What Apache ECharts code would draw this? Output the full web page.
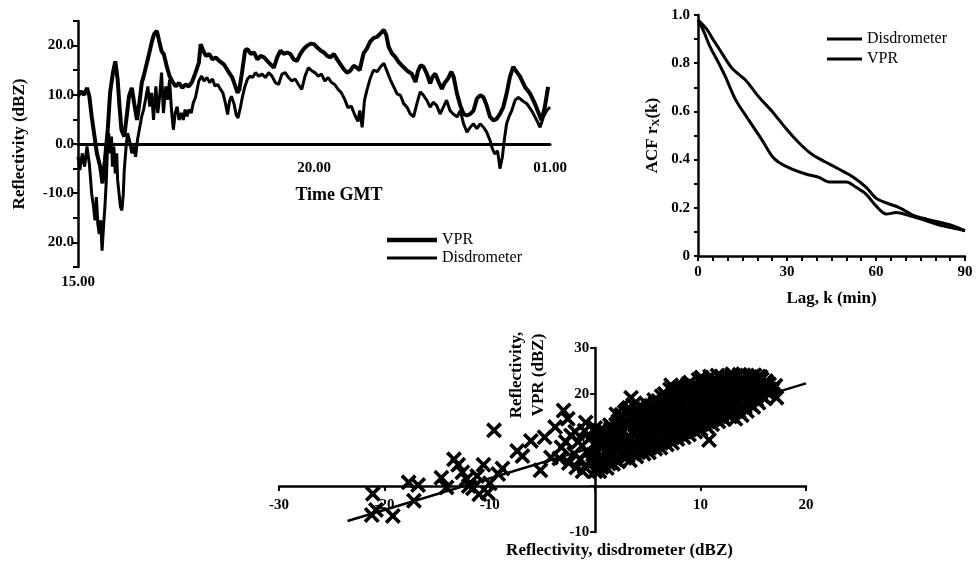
<!DOCTYPE html>
<html><head><meta charset="utf-8">
<script src="https://cdn.jsdelivr.net/npm/echarts@6/dist/echarts.min.js"></script>
<style>html,body{margin:0;padding:0;background:#fff}#c{width:977px;height:571px}</style>
</head><body><div id="c"></div>
<script>
// ---------- Panel 1: reflectivity time series (time in hours GMT; 25 = 01.00 next day) ----------
const vprTime = [15.00,15.06,15.13,15.19,15.24,15.29,15.35,15.40,15.47,15.52,15.57,15.63,15.68,15.74,15.79,15.84,15.88,15.92,15.98,16.04,16.08,16.14,16.19,16.25,16.30,16.35,16.40,16.46,16.51,16.56,16.61,16.67,16.72,16.77,16.82,16.88,16.94,17.00,17.07,17.14,17.21,17.28,17.35,17.42,17.49,17.56,17.60,17.65,17.71,17.78,17.85,17.92,17.99,18.09,18.20,18.27,18.33,18.38,18.42,18.48,18.54,18.59,18.66,18.73,18.80,18.87,18.94,19.01,19.08,19.15,19.22,19.29,19.36,19.43,19.50,19.57,19.64,19.71,19.78,19.86,19.93,20.00,20.07,20.14,20.21,20.28,20.35,20.42,20.49,20.56,20.63,20.70,20.77,20.84,20.91,20.97,21.00,21.05,21.12,21.19,21.26,21.34,21.41,21.48,21.53,21.58,21.65,21.72,21.79,21.86,21.93,22.00,22.07,22.15,22.20,22.26,22.32,22.39,22.46,22.51,22.57,22.64,22.71,22.76,22.84,22.91,22.96,23.03,23.10,23.17,23.24,23.31,23.38,23.45,23.52,23.59,23.66,23.73,23.80,23.87,23.94,24.01,24.08,24.15,24.22,24.29,24.36,24.47,24.58,24.68,24.75,24.82,24.89,24.96];
const vprDBZ = [9.7,10.7,10.0,11.4,9.7,5.6,1.5,-1.9,-4.6,-8.0,-3.3,2.9,10.4,14.5,16.8,13.1,7.6,2.9,1.5,6.3,9.7,11.4,8.3,4.9,8.3,12.4,14.1,16.5,18.5,20.6,22.3,23.0,20.9,18.9,18.2,15.8,13.8,12.7,11.7,12.4,11.4,12.1,11.7,12.7,14.5,16.5,20.3,19.0,17.9,18.3,17.2,17.6,16.9,16.2,14.5,13.5,11.8,10.4,11.1,14.9,19.0,19.3,18.3,18.6,17.2,17.9,17.6,16.9,16.2,15.5,17.6,19.0,18.3,18.6,18.3,17.2,16.9,18.3,19.3,20.0,20.4,20.3,19.6,19.0,18.6,17.9,17.6,18.3,17.2,16.2,15.2,14.5,14.9,15.9,15.5,15.0,16.4,18.4,19.4,20.8,21.5,21.8,22.5,23.2,22.2,19.8,18.4,17.7,16.7,16.0,15.3,14.7,14.3,12.6,14.7,16.0,15.7,14.3,12.3,13.6,14.3,12.6,11.2,12.3,13.3,14.7,13.6,10.2,7.8,6.1,5.8,6.1,6.8,9.2,9.9,9.5,7.8,5.5,4.8,5.1,6.1,7.5,10.2,13.6,15.7,14.7,13.8,11.6,10.2,8.2,6.5,4.8,7.5,11.6];
const disTime = [15.00,15.04,15.09,15.14,15.19,15.24,15.29,15.33,15.36,15.39,15.42,15.45,15.48,15.51,15.54,15.57,15.60,15.62,15.65,15.68,15.71,15.73,15.76,15.79,15.82,15.84,15.87,15.90,15.93,15.96,15.98,16.02,16.05,16.09,16.14,16.18,16.22,16.26,16.31,16.35,16.39,16.43,16.48,16.52,16.56,16.60,16.65,16.69,16.73,16.77,16.81,16.86,16.90,16.94,16.98,17.02,17.06,17.10,17.14,17.19,17.23,17.27,17.31,17.35,17.40,17.44,17.49,17.56,17.62,17.67,17.73,17.79,17.85,17.90,17.96,18.02,18.07,18.13,18.17,18.21,18.25,18.31,18.35,18.39,18.44,18.48,18.53,18.59,18.65,18.70,18.76,18.83,18.90,18.97,19.04,19.11,19.18,19.25,19.32,19.39,19.46,19.53,19.60,19.67,19.74,19.81,19.88,19.95,20.02,20.09,20.16,20.23,20.30,20.37,20.44,20.51,20.58,20.65,20.72,20.79,20.86,20.93,20.97,21.02,21.07,21.12,21.19,21.26,21.34,21.41,21.48,21.55,21.62,21.69,21.76,21.83,21.90,21.97,22.04,22.11,22.18,22.25,22.32,22.39,22.46,22.53,22.60,22.67,22.74,22.81,22.88,22.95,23.03,23.10,23.17,23.24,23.31,23.38,23.45,23.52,23.59,23.66,23.73,23.78,23.83,23.89,23.94,23.99,24.03,24.08,24.13,24.19,24.26,24.33,24.40,24.51,24.61,24.72,24.79,24.86,24.93,25.00];
const disDBZ = [-2.6,-5.3,-1.9,-4.6,-0.5,-4.0,-10.1,-12.8,-15.5,-10.8,-16.2,-18.3,-15.5,-21.7,-16.9,-12.8,-7.4,-1.9,2.2,-1.9,1.5,-4.6,-0.5,-6.0,-1.9,-7.4,-10.1,-12.8,-13.5,-10.1,-5.3,-0.5,2.2,0.8,-1.9,-0.5,-2.6,0.8,3.5,5.6,7.0,9.0,11.7,7.6,10.4,4.9,11.7,6.3,9.7,14.5,6.3,11.7,9.0,13.1,7.0,2.9,6.3,7.6,4.9,6.3,4.9,7.0,5.6,7.0,6.3,8.3,9.5,12.8,13.8,12.8,13.5,12.5,13.2,11.8,12.1,11.1,10.4,8.0,6.0,8.7,9.7,8.0,6.0,5.3,7.4,9.4,11.5,13.2,13.8,13.5,14.5,13.8,14.2,13.5,14.5,13.8,12.5,12.1,14.2,14.5,13.5,12.8,13.2,12.1,11.1,13.8,15.5,14.9,14.5,13.8,14.2,12.8,13.5,12.5,12.1,11.1,10.4,9.1,7.4,7.7,6.0,4.6,6.8,3.4,8.9,10.9,13.3,15.0,14.7,15.7,16.4,14.7,13.0,11.6,10.2,9.9,8.2,7.5,6.1,5.5,8.2,10.6,9.9,8.9,7.5,8.5,7.8,6.1,7.5,8.9,6.8,6.1,5.5,6.8,4.1,2.4,3.4,4.1,3.1,4.1,3.4,2.4,0.7,-1.0,-2.0,-1.4,-5.0,-2.7,0.7,4.1,5.5,6.8,8.9,9.5,8.9,8.2,6.8,4.8,3.4,5.5,6.8,7.5];
const tsYTickValues = [20, 10, 0, -10, -20];
const tsYTickLabels = ['20.0', '10.0', '0.0', '-10.0', '20.0'];
const tsXTickValues = [15, 20, 25];
const tsXTickLabels = ['15.00', '20.00', '01.00'];

// ---------- Panel 2: autocorrelation functions ----------
const acfDisLag = [0,2,4,7,9.2,12.6,17,21.5,25,27.3,31.7,36.3,40.8,44.2,50,53.3,56.7,60,63.5,66.8,71.4,77,82.6,90];
const acfDis = [0.98,0.93,0.87,0.80,0.745,0.65,0.566,0.483,0.414,0.388,0.36,0.34,0.326,0.307,0.307,0.285,0.256,0.208,0.174,0.18,0.167,0.146,0.125,0.105];
const acfVprLag = [0,3,5,7,11.4,16,20.5,25,29.6,34,38.6,43,47.6,52,56.7,60,63.5,68,72.4,77,81.5,86,90];
const acfVpr = [0.98,0.94,0.90,0.862,0.78,0.73,0.66,0.60,0.53,0.47,0.42,0.39,0.36,0.33,0.285,0.24,0.22,0.20,0.17,0.153,0.14,0.125,0.105];

// ---------- Panel 3: scatter VPR vs disdrometer, [disdrometer dBZ, VPR dBZ] ----------
const scatterPoints = [
[-21.1,-1.7],[-21.2,-6.3],[-20.8,-5.2],[-19.2,-6.5],[-17.7,0.8],[-17.2,-3.2],[-16.8,0.2],[-14.6,1.8],[-14.1,-0.3],[-13.4,5.8],
[-13.0,4.6],[-12.6,3.0],[-12.2,1.5],[-11.6,-0.5],[-11.2,2.2],[-10.6,4.6],[-10.2,-1.5],[-10.0,0.6],[-9.6,12.1],[-9.2,2.6],
[-12.0,0.0],[-11.0,-1.8],[-8.8,3.8],[-7.4,7.6],[-6.9,6.5],[-6.1,9.8],[-5.2,3.4],[-4.8,10.6],[-4.2,6.2],[-3.8,12.8],
[-3.0,16.4],[-2.6,14.6],[-2.3,11.0],[-2.5,5.0],[-1.8,4.0],[-1.6,9.6],[-1.0,12.0],[-0.8,7.5],[-0.4,5.5],[-3.2,8.4],
[-2.0,7.0],[-1.2,3.2],[0.2,9.0],[0.4,3.2],[2.0,15.6],[3.4,19.2],[7.2,21.9],[10.1,23.0],[16.6,21.0],[17.2,19.2],
[10.8,10.0],[8.6,21.5],[12.4,22.4],[14.0,23.6],[15.5,23.8],
[-1.4,5.8],[-0.6,10.2],[-2.8,9.6],[-1.0,4.2],[-0.2,6.8],[-1.9,11.8],[-0.9,13.8],[0.0,12.6],[-3.4,6.0],
[0.0,3.2],[0.1,5.4],[0.2,7.3],[-0.1,9.1],[0.3,10.8],[0.6,4.1],[0.7,6.2],[0.5,8.4],[0.8,10.1],[0.4,12.0],
[1.1,3.9],[1.0,5.8],[1.2,7.9],[1.3,9.7],[1.0,11.6],[1.4,13.2],[1.7,4.8],[1.6,6.9],[1.8,8.8],[1.9,10.9],[1.6,12.7],
[2.2,5.3],[2.1,7.4],[2.4,9.2],[2.3,11.3],[2.0,13.4],[2.5,14.9],[2.8,6.1],[2.7,8.0],[2.9,10.2],[2.6,12.1],[3.0,14.0],[2.8,16.1],
[3.3,5.6],[3.4,7.7],[3.2,9.6],[3.5,11.7],[3.3,13.5],[3.6,15.4],[3.2,17.0],[3.9,6.4],[4.0,8.5],[4.1,10.4],[3.8,12.3],[4.2,14.3],[4.0,16.2],
[4.6,7.0],[4.5,9.1],[4.7,11.0],[4.4,12.9],[4.8,14.8],[4.6,16.8],[5.1,7.3],[5.2,9.4],[5.0,11.5],[5.3,13.4],[5.1,15.3],[5.4,17.4],
[5.7,8.1],[5.6,10.0],[5.8,12.2],[5.5,14.1],[5.9,16.0],[5.7,18.0],[6.2,8.3],[6.3,10.4],[6.1,12.4],[6.4,14.5],[6.2,16.6],[6.0,18.5],
[6.8,9.0],[6.7,11.1],[6.9,13.0],[6.6,15.0],[7.0,17.1],[6.8,19.2],[7.3,9.4],[7.2,11.5],[7.4,13.6],[7.1,15.6],[7.5,17.5],[7.3,19.4],[7.1,21.0],
[7.8,10.2],[7.9,12.0],[7.7,14.1],[8.0,16.2],[7.8,18.1],[8.1,20.0],[8.4,10.6],[8.3,12.7],[8.5,14.6],[8.2,16.5],[8.6,18.6],[8.4,20.7],
[8.9,11.2],[9.0,13.1],[8.8,15.2],[9.1,17.2],[8.9,19.1],[9.2,21.2],[9.5,11.8],[9.4,13.8],[9.6,15.7],[9.3,17.8],[9.7,19.7],[9.5,21.7],
[10.0,12.3],[10.1,14.2],[9.9,16.3],[10.2,18.2],[10.0,20.3],[10.3,22.1],[10.6,12.9],[10.5,14.9],[10.7,16.8],[10.4,18.9],[10.8,20.8],[10.6,22.7],
[11.1,13.4],[11.2,15.3],[11.0,17.4],[11.3,19.3],[11.1,21.3],[11.4,23.0],[11.7,14.0],[11.6,16.1],[11.8,18.0],[11.5,20.0],[11.9,21.9],
[12.2,14.5],[12.3,16.4],[12.1,18.5],[12.4,20.4],[12.2,22.4],[12.0,23.8],[12.8,15.1],[12.7,17.2],[12.9,19.1],[12.6,21.1],[13.0,23.0],
[13.3,14.6],[13.4,16.6],[13.2,18.6],[13.5,20.6],[13.3,22.5],[13.1,24.1],[13.9,15.4],[13.8,17.5],[14.0,19.4],[13.7,21.4],[14.1,23.3],
[14.4,16.3],[14.5,18.2],[14.3,20.2],[14.6,22.1],[14.4,24.0],[15.0,17.2],[14.9,19.1],[15.1,21.0],[14.8,22.9],
[15.5,18.1],[15.6,20.0],[15.4,21.9],[15.7,23.7],[16.1,19.0],[16.0,21.0],[16.2,22.8],[16.6,20.2],[16.5,22.1],[16.9,21.3],
[0.3,4.3],[0.4,6.3],[0.6,9.4],[0.2,11.3],[1.3,4.9],[1.4,6.9],[1.5,8.9],[1.2,10.8],[1.5,12.4],
[1.9,5.8],[2.0,7.9],[2.1,10.1],[1.8,12.0],[2.2,14.1],[2.5,6.8],[2.6,9.0],[2.4,11.2],[2.7,13.3],[2.5,15.5],
[3.1,6.6],[3.0,8.7],[3.2,10.8],[3.0,12.8],[3.3,14.8],[3.0,16.6],[3.6,7.2],[3.7,9.3],[3.6,11.4],[3.9,13.4],[3.7,15.4],[3.6,17.6],
[4.3,7.7],[4.2,9.8],[4.4,11.9],[4.1,13.8],[4.4,15.6],[4.2,17.4],[4.9,8.3],[4.8,10.4],[4.9,12.4],[4.7,14.3],[5.0,16.3],[4.8,18.0],
[5.4,8.8],[5.5,10.9],[5.3,12.9],[5.6,15.0],[5.4,16.8],[5.6,18.7],[6.0,9.4],[5.9,11.4],[6.1,13.5],[5.9,15.5],[6.2,17.5],[6.3,19.5],
[6.5,10.1],[6.6,12.1],[6.4,14.0],[6.7,16.0],[6.5,18.0],[6.6,20.0],[7.1,10.3],[7.0,12.4],[7.2,14.5],[7.0,16.6],[7.3,18.6],[7.5,20.6],
[7.6,11.1],[7.6,13.1],[7.8,15.1],[7.5,17.1],[7.7,19.1],[7.9,21.2],[8.2,11.6],[8.1,13.7],[8.3,15.6],[8.1,17.6],[8.3,19.6],[8.2,21.6],
[8.7,12.1],[8.6,14.2],[8.7,16.2],[8.5,18.2],[8.8,20.2],[8.8,22.1],[9.2,12.6],[9.3,14.7],[9.1,16.7],[9.4,18.7],[9.2,20.7],[9.0,22.5],
[9.8,13.2],[9.7,15.2],[9.9,17.3],[9.6,19.2],[9.9,21.2],[9.8,23.1],[10.3,13.7],[10.4,15.7],[10.2,17.7],[10.5,19.7],[10.3,21.7],[10.1,23.6],
[10.9,14.2],[10.8,16.2],[11.0,18.2],[10.7,20.2],[11.0,22.2],[10.9,23.8],[11.4,14.8],[11.5,16.8],[11.3,18.8],[11.6,20.8],[11.4,22.6],[11.6,24.0],
[12.0,15.3],[11.9,17.3],[12.1,19.3],[11.8,21.3],[12.1,23.0],[12.5,15.6],[12.6,17.8],[12.4,19.8],[12.7,21.8],[12.5,23.6],
[13.0,16.1],[13.1,18.1],[12.9,20.1],[13.2,22.1],[13.0,24.3],[13.6,16.3],[13.5,18.4],[13.7,20.4],[13.4,22.4],[13.7,24.2],
[14.2,17.2],[14.1,19.3],[14.3,21.3],[14.0,23.0],[14.7,17.8],[14.8,20.0],[14.6,21.9],[14.9,23.8],
[15.3,18.8],[15.2,20.8],[15.4,22.7],[15.1,24.1],[15.8,19.6],[15.9,21.6],[15.8,23.2],[16.3,20.4],[16.4,22.2],[16.8,20.9],[17.1,21.8]
];
const fitLine = [[-23.5,-7.6],[20,22.3]];

const SERIF = 'Liberation Serif';
const X_SYMBOL = 'path://M0,1.6L1.6,0L5,3.4L8.4,0L10,1.6L6.6,5L10,8.4L8.4,10L5,6.6L1.6,10L0,8.4L3.4,5Z';
const axisLineStyle = {color:'#000', width:2.5};
const tickStyle = {width:2, color:'#000'};
const lbl = (extra) => Object.assign({color:'#000', fontFamily:SERIF, fontWeight:'bold', fontSize:15}, extra||{});
const nameStyle = (extra) => Object.assign({color:'#000', fontFamily:SERIF, fontWeight:'bold', fontSize:17}, extra||{});
const pickLabel = (vals, labels) => (v) => { const i = vals.findIndex(x => Math.abs(x - v) < 1e-6); return i < 0 ? '' : labels[i]; };

// grid geometry (pixels); axes that cross at zero are moved with offset
const G1 = {left:78, top:21, width:472, height:246};
const G2 = {left:698, top:15, width:267, height:241};
const G3 = {left:279, top:348, width:527, height:184};
const tsZeroOffset = -G1.height * 25 / 50;           // y = 0 inside [-25, 25]
const scXOffset = -G3.height * 10 / 40;              // y = 0 inside [-10, 30]
const scYOffset = -G3.width * 30 / 50;               // x = 0 inside [-30, 20]

const chart = echarts.init(document.getElementById('c'), null, {renderer:'canvas'});
chart.setOption({
  animation:false,
  backgroundColor:'#fff',
  color:['#000'],
  textStyle:{fontFamily:SERIF, color:'#000'},
  grid:[
    Object.assign({outerBoundsMode:'none', containLabel:false}, G1),
    Object.assign({outerBoundsMode:'none', containLabel:false}, G2),
    Object.assign({outerBoundsMode:'none', containLabel:false}, G3)
  ],
  legend:[
    {data:[{name:'VPR', icon:'path://M0,0H50V4.5H0Z'}, {name:'Disdrometer', icon:'path://M0,0H50V3H0Z'}],
     orient:'vertical', left:382, top:227, itemWidth:50, itemHeight:14, itemGap:2,
     itemStyle:{color:'#000'}, textStyle:{fontFamily:SERIF, fontSize:16, color:'#000'}},
    {data:[{name:'Disdrometer', icon:'path://M0,0H35V3H0Z'}, {name:'VPR', icon:'path://M0,0H35V3H0Z'}],
     orient:'vertical', left:822, top:26, itemWidth:35, itemHeight:14, itemGap:4,
     itemStyle:{color:'#000'}, textStyle:{fontFamily:SERIF, fontSize:16, color:'#000'}}
  ],
  xAxis:[
    {gridIndex:0, type:'value', min:15, max:25, interval:5, position:'bottom', offset:tsZeroOffset,
     axisLine:{onZero:false, lineStyle:{color:'#000', width:3}}, axisTick:{show:false}, splitLine:{show:false},
     axisLabel:lbl({margin:17, formatter:(v)=> v===15 ? '' : pickLabel(tsXTickValues, tsXTickLabels)(v)}),
     name:'Time GMT', nameLocation:'middle', nameGap:42, nameTextStyle:nameStyle({fontSize:18, padding:[0,0,0,50]})},
    {gridIndex:0, type:'value', min:15, max:25, interval:5, position:'bottom',
     axisLine:{show:false, onZero:false}, axisTick:{show:false}, splitLine:{show:false},
     axisLabel:lbl({margin:8, formatter:(v)=> v===15 ? tsXTickLabels[0] : ''})},
    {gridIndex:1, type:'value', min:0, max:90, interval:5,
     axisLine:{onZero:false, lineStyle:axisLineStyle}, axisTick:{length:5, lineStyle:tickStyle}, splitLine:{show:false},
     axisLabel:lbl({margin:9, formatter:(v)=> v % 30 === 0 ? String(v) : ''}),
     name:'Lag, k (min)', nameLocation:'middle', nameGap:34, nameTextStyle:nameStyle()},
    {gridIndex:2, type:'value', min:-30, max:20, interval:10, position:'bottom', offset:scXOffset,
     axisLine:{onZero:false, lineStyle:axisLineStyle}, axisTick:{length:5, lineStyle:tickStyle}, splitLine:{show:false},
     axisLabel:lbl({margin:12, formatter:(v)=> v === 0 ? '' : String(v)}),
     name:'Reflectivity, disdrometer (dBZ)', nameLocation:'middle', nameGap:56, nameTextStyle:nameStyle({padding:[0,0,0,154]})}
  ],
  yAxis:[
    {gridIndex:0, type:'value', min:-25, max:25, interval:5,
     axisLine:{onZero:false, lineStyle:axisLineStyle}, axisTick:{length:5, lineStyle:tickStyle}, splitLine:{show:false},
     axisLabel:lbl({margin:4, formatter:pickLabel(tsYTickValues, tsYTickLabels)}),
     name:'Reflectivity (dBZ)', nameLocation:'middle', nameGap:50, nameTextStyle:nameStyle()},
    {gridIndex:1, type:'value', min:0, max:1, interval:0.1,
     axisLine:{onZero:false, lineStyle:axisLineStyle}, axisTick:{length:4, lineStyle:tickStyle}, splitLine:{show:false},
     axisLabel:lbl({margin:8, formatter:(v)=>{ const k = Math.round(v*10); if (k % 2) return ''; return k === 0 ? '0' : (k/10).toFixed(1); }}),
     name:'ACF r{sub|X}(k)', nameLocation:'middle', nameGap:36,
     nameTextStyle:nameStyle({rich:{sub:{fontFamily:SERIF, fontWeight:'bold', fontSize:11, padding:[7,0,0,0]}}})},
    {gridIndex:2, type:'value', min:-10, max:30, interval:10, position:'left', offset:scYOffset,
     axisLine:{onZero:false, lineStyle:axisLineStyle}, axisTick:{length:5, lineStyle:tickStyle}, splitLine:{show:false},
     axisLabel:lbl({margin:6, formatter:(v)=> v === 0 ? '' : String(v)}),
     name:'Reflectivity,\nVPR (dBZ)', nameLocation:'middle', nameGap:46, nameTextStyle:nameStyle({lineHeight:22, padding:[0,0,0,130]})}
  ],
  series:[
    {name:'VPR', type:'line', xAxisIndex:0, yAxisIndex:0, symbol:'none', lineStyle:{color:'#000', width:4},
     data: vprTime.map((t,i)=>[t, vprDBZ[i]])},
    {name:'Disdrometer', type:'line', xAxisIndex:0, yAxisIndex:0, symbol:'none', lineStyle:{color:'#000', width:3},
     data: disTime.map((t,i)=>[t, disDBZ[i]])},
    {name:'Disdrometer', type:'line', xAxisIndex:2, yAxisIndex:1, symbol:'none', smooth:0.3, lineStyle:{color:'#000', width:3},
     data: acfDisLag.map((k,i)=>[k, acfDis[i]])},
    {name:'VPR', type:'line', xAxisIndex:2, yAxisIndex:1, symbol:'none', smooth:0.3, lineStyle:{color:'#000', width:3},
     data: acfVprLag.map((k,i)=>[k, acfVpr[i]])},
    {name:'VPR vs disdrometer', type:'scatter', xAxisIndex:3, yAxisIndex:2, symbol:X_SYMBOL, symbolSize:16,
     itemStyle:{color:'#000', opacity:1}, data: scatterPoints},
    {name:'Fit', type:'line', xAxisIndex:3, yAxisIndex:2, symbol:'none', lineStyle:{color:'#000', width:2.5}, z:3,
     data: fitLine}
  ]
});
</script></body></html>
